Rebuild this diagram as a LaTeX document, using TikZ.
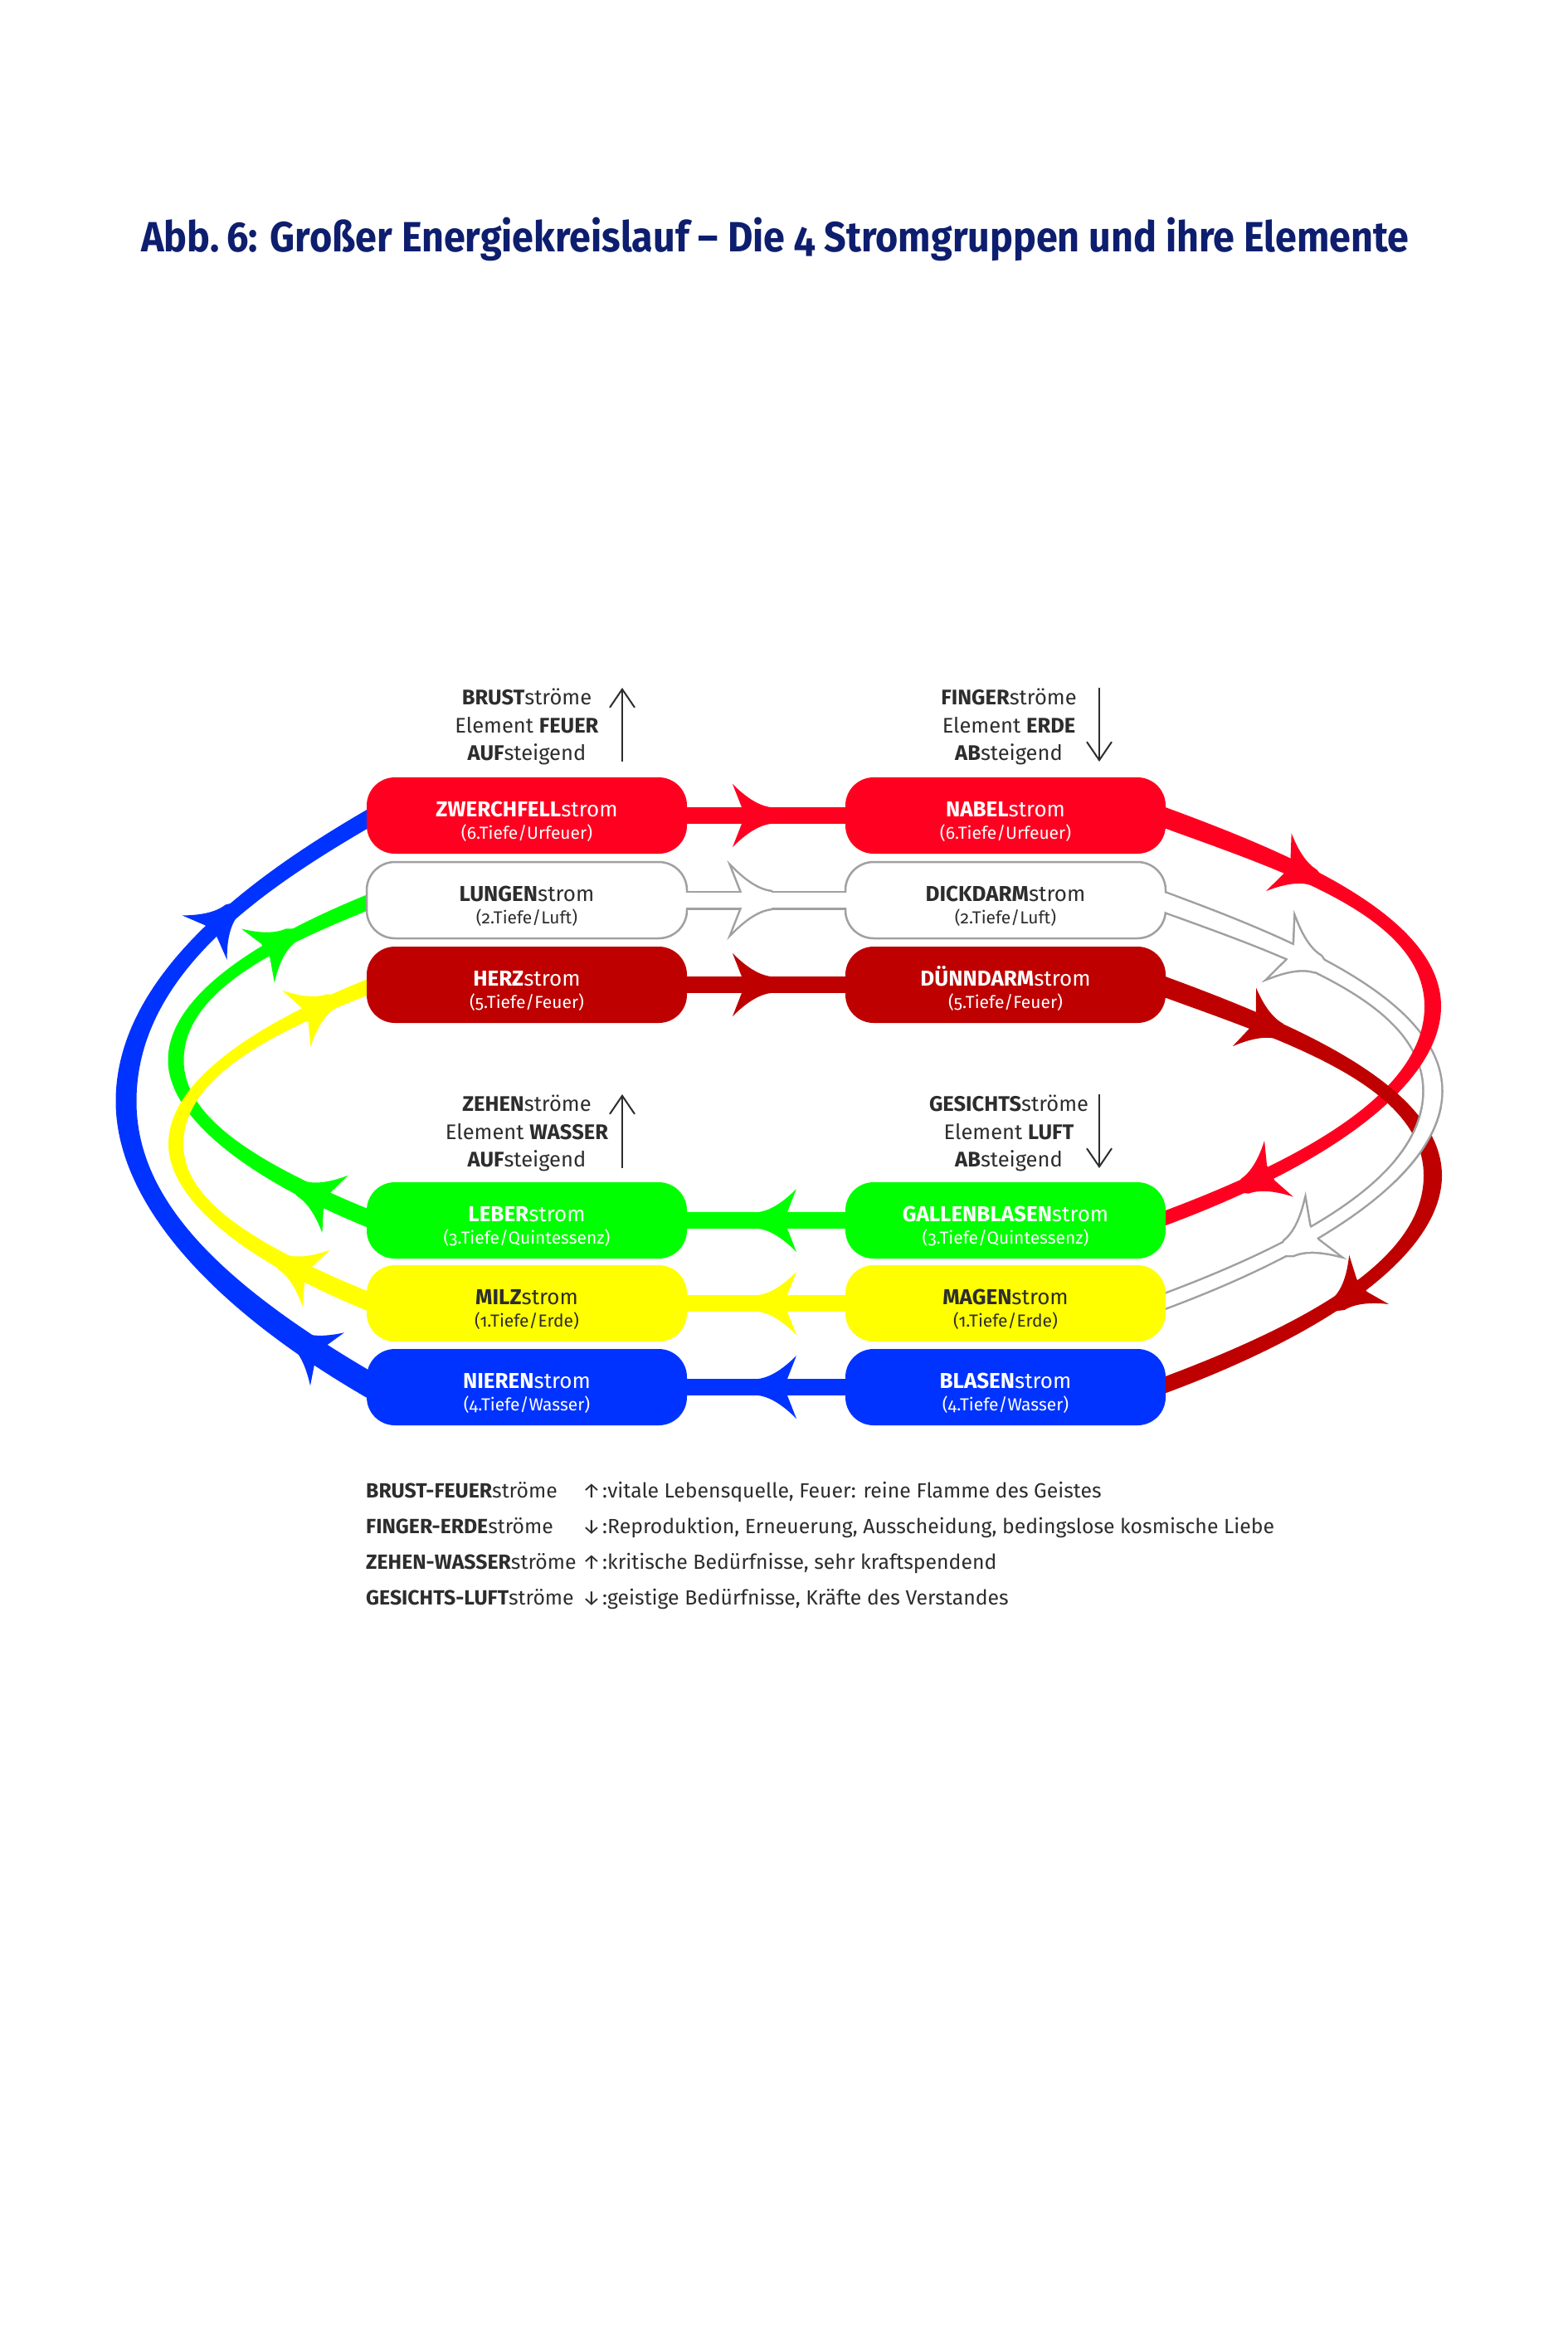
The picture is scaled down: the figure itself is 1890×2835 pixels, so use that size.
\documentclass[tikz,border=0pt]{standalone}
\usepackage{fontspec}
\setmainfont{Fira Sans}[Numbers=OldStyle]
\newfontfamily\titlefont{Fira Sans}[Numbers=OldStyle, FakeStretch=0.915]
\usetikzlibrary{calc,decorations.markings,arrows.meta}
\pgfdeclarelayer{back}
\pgfdeclarelayer{bg}
\pgfdeclarelayer{fg}
\pgfsetlayers{back,bg,main,fg}
\definecolor{cRed}{RGB}{255,0,32}
\definecolor{cDark}{RGB}{190,0,0}
\definecolor{cGreen}{RGB}{0,255,0}
\definecolor{cYellow}{RGB}{255,255,0}
\definecolor{cBlue}{RGB}{0,51,255}
\definecolor{cGray}{RGB}{160,160,160}
\definecolor{cText}{RGB}{45,45,45}
\definecolor{cTitle}{RGB}{14,30,110}
\newcommand\myah[1]{\fill[#1] (62,0) -- (46,10) .. controls (30,12) and (14,24) .. (0,38) -- (11,10) -- (11,-10) -- (0,-38) .. controls (14,-24) and (30,-12) .. (46,-10) -- cycle;}
\newcommand\myahg{\filldraw[fill=cGray, draw=cGray, line width=5pt, line join=miter, miter limit=5] (62,0) -- (46,10) .. controls (30,12) and (14,24) .. (0,38) -- (11,10) -- (11,-10) -- (0,-38) .. controls (14,-24) and (30,-12) .. (46,-10) -- cycle;}
\newcommand\myband[5]{%
 \coordinate (#2o0) at ($(#2P0)!#3!90:(#2c1)$);
 \coordinate (#2i0) at ($(#2P0)!#3!-90:(#2c1)$);
 \coordinate (#2oA) at ($(#2A)!#4!90:(#2c3)$);
 \coordinate (#2iA) at ($(#2A)!#4!-90:(#2c3)$);
 \coordinate (#2o2) at ($(#2P2)!#5!-90:(#2c4)$);
 \coordinate (#2i2) at ($(#2P2)!#5!90:(#2c4)$);
 \path[#1] (#2o0) .. controls ($(#2c1)+(#2o0)-(#2P0)$) and ($(#2c2)+(#2oA)-(#2A)$) .. (#2oA)
   .. controls ($(#2c3)+(#2oA)-(#2A)$) and ($(#2c4)+(#2o2)-(#2P2)$) .. (#2o2)
   -- (#2i2) .. controls ($(#2c4)+(#2i2)-(#2P2)$) and ($(#2c3)+(#2iA)-(#2A)$) .. (#2iA)
   .. controls ($(#2c2)+(#2iA)-(#2A)$) and ($(#2c1)+(#2i0)-(#2P0)$) .. (#2i0) -- cycle;}
\newcommand\myarrows[4]{\path[decorate, decoration={markings, mark=at position #2 with {#4}, mark=at position #3 with {#4}}] (#1P0) .. controls (#1c1) and (#1c2) .. (#1A) .. controls (#1c3) and (#1c4) .. (#1P2);}
\tikzset{
 box/.style={rounded corners=34pt, minimum width=386pt, minimum height=92pt, inner sep=0pt, outer sep=0pt},
 tA/.style={anchor=base, inner sep=0pt, font=\fontsize{26}{30}\selectfont},
 tB/.style={anchor=base, inner sep=0pt, font=\fontsize{21}{25}\selectfont},
 hd/.style={anchor=base, inner sep=0pt, font=\fontsize{25.5}{30}\selectfont, text=cText},
 leg/.style={anchor=base west, inner sep=0pt, font=\fontsize{24.8}{28}\selectfont, text=cText},
 hdarrow/.style={draw=cText, line width=2pt, -{Straight Barb[length=22pt, width=30pt]}},
 sconn/.style={line width=20pt},
}
\begin{document}
\begin{tikzpicture}[x=1pt,y=-1pt]
\begin{pgfonlayer}{back}
\fill[white] (0,0) rectangle (1890,2835);
\end{pgfonlayer}
\useasboundingbox (0,0) rectangle (1890,2835);

\node[anchor=base west, inner sep=0pt, text=cTitle, font=\titlefont\fontsize{51}{60}\selectfont\bfseries] (title) at (170,303) {Abb.\hspace{0.18em}6: Großer Energiekreislauf – Die 4 Stromgruppen und ihre Elemente};

% boxes
\node[box, fill=cRed] (zw) at (635,983) {};
\node[box, fill=white, draw=cGray, line width=2.5pt] (lung) at (635,1085) {};
\node[box, fill=cDark] (herz) at (635,1187) {};
\node[box, fill=cRed] (nabel) at (1212,983) {};
\node[box, fill=white, draw=cGray, line width=2.5pt] (dick) at (1212,1085) {};
\node[box, fill=cDark] (duenn) at (1212,1187) {};
\node[box, fill=cGreen] (leber) at (635,1471) {};
\node[box, fill=cYellow] (milz) at (635,1571) {};
\node[box, fill=cBlue] (nieren) at (635,1672) {};
\node[box, fill=cGreen] (gallen) at (1212,1471) {};
\node[box, fill=cYellow] (magen) at (1212,1571) {};
\node[box, fill=cBlue] (blasen) at (1212,1672) {};

% box texts
\node[tA, text=white] (zwA) at ($(zw)+(0,1)$) {\textbf{ZWERCHFELL}strom};
\node[tB, text=white] (zwB) at ($(zw)+(0,28)$) {(6.Tiefe/Urfeuer)};
\node[tA, text=cText] (lungA) at ($(lung)+(0,1)$) {\textbf{LUNGEN}strom};
\node[tB, text=cText] (lungB) at ($(lung)+(0,28)$) {(2.Tiefe/Luft)};
\node[tA, text=white] (herzA) at ($(herz)+(0,1)$) {\textbf{HERZ}strom};
\node[tB, text=white] (herzB) at ($(herz)+(0,28)$) {(5.Tiefe/Feuer)};
\node[tA, text=white] (nabelA) at ($(nabel)+(0,1)$) {\textbf{NABEL}strom};
\node[tB, text=white] (nabelB) at ($(nabel)+(0,28)$) {(6.Tiefe/Urfeuer)};
\node[tA, text=cText] (dickA) at ($(dick)+(0,1)$) {\textbf{DICKDARM}strom};
\node[tB, text=cText] (dickB) at ($(dick)+(0,28)$) {(2.Tiefe/Luft)};
\node[tA, text=white] (duennA) at ($(duenn)+(0,1)$) {\textbf{DÜNNDARM}strom};
\node[tB, text=white] (duennB) at ($(duenn)+(0,28)$) {(5.Tiefe/Feuer)};
\node[tA, text=white] (leberA) at ($(leber)+(0,1)$) {\textbf{LEBER}strom};
\node[tB, text=white] (leberB) at ($(leber)+(0,28)$) {(3.Tiefe/Quintessenz)};
\node[tA, text=cText] (milzA) at ($(milz)+(0,1)$) {\textbf{MILZ}strom};
\node[tB, text=cText] (milzB) at ($(milz)+(0,28)$) {(1.Tiefe/Erde)};
\node[tA, text=white] (nierenA) at ($(nieren)+(0,1)$) {\textbf{NIEREN}strom};
\node[tB, text=white] (nierenB) at ($(nieren)+(0,28)$) {(4.Tiefe/Wasser)};
\node[tA, text=white] (gallenA) at ($(gallen)+(0,1)$) {\textbf{GALLENBLASEN}strom};
\node[tB, text=white] (gallenB) at ($(gallen)+(0,28)$) {(3.Tiefe/Quintessenz)};
\node[tA, text=cText] (magenA) at ($(magen)+(0,1)$) {\textbf{MAGEN}strom};
\node[tB, text=cText] (magenB) at ($(magen)+(0,28)$) {(1.Tiefe/Erde)};
\node[tA, text=white] (blasenA) at ($(blasen)+(0,1)$) {\textbf{BLASEN}strom};
\node[tB, text=white] (blasenB) at ($(blasen)+(0,28)$) {(4.Tiefe/Wasser)};

% loop geometry
\coordinate (rP0) at ($(nabel.east)+(-8,0)$);
\coordinate (rP2) at ($(gallen.east)+(-8,0)$);
\coordinate (rc1) at ($(rP0)+(150,55)$);
\coordinate (rA)  at ($(rP0)+(330,230)$);
\coordinate (rc2) at ($(rA)+(0,-110)$);
\coordinate (rc3) at ($(rA)+(0,87)$);
\coordinate (rc4) at ($(rP2)+(220,-81)$);
\coordinate (gP0) at ($(dick.east)+(-8,0)$);
\coordinate (gP2) at ($(magen.east)+(-8,0)$);
\coordinate (gc1) at ($(gP0)+(150,55)$);
\coordinate (gA)  at ($(gP0)+(330,230)$);
\coordinate (gc2) at ($(gA)+(0,-110)$);
\coordinate (gc3) at ($(gA)+(0,87)$);
\coordinate (gc4) at ($(gP2)+(220,-81)$);
\coordinate (dP0) at ($(duenn.east)+(-8,0)$);
\coordinate (dP2) at ($(blasen.east)+(-8,0)$);
\coordinate (dc1) at ($(dP0)+(150,55)$);
\coordinate (dA)  at ($(dP0)+(330,230)$);
\coordinate (dc2) at ($(dA)+(0,-110)$);
\coordinate (dc3) at ($(dA)+(0,87)$);
\coordinate (dc4) at ($(dP2)+(220,-81)$);
\coordinate (bP0) at ($(nieren.west)+(8,0)$);
\coordinate (bP2) at ($(zw.west)+(8,0)$);
\coordinate (bA)  at ($(bP2)+(-298,344.5)$);
\coordinate (bc1) at ($(bP0)+(-199,-115)$);
\coordinate (bc2) at ($(bA)+(0,115)$);
\coordinate (bc3) at ($(bA)+(0,-155)$);
\coordinate (bc4) at ($(bP2)+(-135,78)$);
\coordinate (lP0) at ($(leber.west)+(8,0)$);
\coordinate (lP2) at ($(lung.west)+(8,0)$);
\coordinate (lA)  at ($(lP2)+(-238,193)$);
\coordinate (lc1) at ($(lP0)+(-159,-64)$);
\coordinate (lc2) at ($(lA)+(0,64)$);
\coordinate (lc3) at ($(lA)+(0,-87)$);
\coordinate (lc4) at ($(lP2)+(-108,43.5)$);
\coordinate (yP0) at ($(milz.west)+(8,0)$);
\coordinate (yP2) at ($(herz.west)+(8,0)$);
\coordinate (yA)  at ($(yP2)+(-238,192)$);
\coordinate (yc1) at ($(yP0)+(-159,-64)$);
\coordinate (yc2) at ($(yA)+(0,64)$);
\coordinate (yc3) at ($(yA)+(0,-86.5)$);
\coordinate (yc4) at ($(yP2)+(-108,43)$);

\begin{pgfonlayer}{bg}
% left loops
\myband{fill=cBlue}{b}{15pt}{12.5pt}{10pt}
\myarrows{b}{65pt}{700pt}{\myah{cBlue}}
\myband{fill=cGreen}{l}{10.5pt}{9.5pt}{9pt}
\myarrows{l}{50pt}{488pt}{\myah{cGreen}}
\myband{fill=cYellow}{y}{11pt}{9pt}{9pt}
\myarrows{y}{75pt}{540pt}{\myah{cYellow}}
% right loops
\myband{fill=cGray, draw=cGray, line width=5pt}{g}{10.5pt}{10.25pt}{7.75pt}
\myarrows{g}{160pt}{645pt}{\myahg}
\myband{fill=white}{g}{10.5pt}{10.25pt}{7.75pt}
\myarrows{g}{160pt}{645pt}{\myah{white}}
\myband{fill=cRed}{r}{12pt}{10pt}{8.5pt}
\myarrows{r}{155pt}{705pt}{\myah{cRed}}
\myband{fill=cDark}{d}{12pt}{11pt}{9.5pt}
\myarrows{d}{110pt}{575pt}{\myah{cDark}}
\begin{scope}
\clip (1680,1335) rectangle (1775,1425);
\myband{fill=cGray, draw=cGray, line width=5pt}{g}{10.5pt}{10.25pt}{7.75pt}
\myband{fill=white}{g}{10.5pt}{10.25pt}{7.75pt}
\end{scope}
% straight connectors
\draw[cRed, sconn, postaction={decorate, decoration={markings, mark=at position 55pt with {\myah{cRed}}}}] (zw.east) -- (nabel.west);
\draw[cDark, sconn, postaction={decorate, decoration={markings, mark=at position 55pt with {\myah{cDark}}}}] (herz.east) -- (duenn.west);
\draw[cGray, line width=23pt, postaction={decorate, decoration={markings, mark=at position 55pt with {\myahg}}}] (lung.east) -- (dick.west);
\draw[cGreen, sconn, postaction={decorate, decoration={markings, mark=at position 59pt with {\myah{cGreen}}}}] (gallen.west) -- (leber.east);
\draw[cYellow, sconn, postaction={decorate, decoration={markings, mark=at position 59pt with {\myah{cYellow}}}}] (magen.west) -- (milz.east);
\draw[cBlue, sconn, postaction={decorate, decoration={markings, mark=at position 59pt with {\myah{cBlue}}}}] (blasen.west) -- (nieren.east);
\end{pgfonlayer}

\begin{pgfonlayer}{fg}
\draw[white, line width=18pt] ($(lung.east)+(-6,0)$) -- ($(dick.west)+(6,0)$);
\path[decorate, decoration={markings, mark=at position 55pt with {\myah{white}}}] (lung.east) -- (dick.west);
\begin{scope}
\clip ($(dick.east)+(-12,-30)$) rectangle ($(dick.east)+(12,30)$);
\myband{fill=white}{g}{10.5pt}{10.25pt}{7.75pt}
\end{scope}
\end{pgfonlayer}

% headers
\node[hd] (h1a) at (635,849) {\textbf{BRUST}ströme};
\node[hd] (h1b) at (635,883) {Element \textbf{FEUER}};
\node[hd] (h1c) at (635,916) {\textbf{AUF}steigend};
\coordinate (h1s) at (750,918); \coordinate (h1e) at (750,829);
\draw[hdarrow] (h1s) -- (h1e);
\node[hd] (h2a) at (1216,849) {\textbf{FINGER}ströme};
\node[hd] (h2b) at (1216,883) {Element \textbf{ERDE}};
\node[hd] (h2c) at (1216,916) {\textbf{AB}steigend};
\coordinate (h2s) at (1325,829); \coordinate (h2e) at (1325,918);
\draw[hdarrow] (h2s) -- (h2e);
\node[hd] (h3a) at (635,1339) {\textbf{ZEHEN}ströme};
\node[hd] (h3b) at (635,1373) {Element \textbf{WASSER}};
\node[hd] (h3c) at (635,1406) {\textbf{AUF}steigend};
\coordinate (h3s) at (750,1408); \coordinate (h3e) at (750,1319);
\draw[hdarrow] (h3s) -- (h3e);
\node[hd] (h4a) at (1216,1339) {\textbf{GESICHTS}ströme};
\node[hd] (h4b) at (1216,1373) {Element \textbf{LUFT}};
\node[hd] (h4c) at (1216,1406) {\textbf{AB}steigend};
\coordinate (h4s) at (1325,1319); \coordinate (h4e) at (1325,1408);
\draw[hdarrow] (h4s) -- (h4e);

% legend
\node[leg] (g1a) at (441,1805) {\textbf{BRUST-FEUER}ströme};
\node[leg, anchor=base] (g1b) at (713,1805) {↑};
\node[leg] (g1c) at (726,1805) {:vitale Lebensquelle, Feuer: reine Flamme des Geistes};
\node[leg] (g2a) at (441,1848) {\textbf{FINGER-ERDE}ströme};
\node[leg, anchor=base] (g2b) at (713,1848) {↓};
\node[leg] (g2c) at (726,1848) {:Reproduktion, Erneuerung, Ausscheidung, bedingslose kosmische Liebe};
\node[leg] (g3a) at (441,1891) {\textbf{ZEHEN-WASSER}ströme};
\node[leg, anchor=base] (g3b) at (713,1891) {↑};
\node[leg] (g3c) at (726,1891) {:kritische Bedürfnisse, sehr kraftspendend};
\node[leg] (g4a) at (441,1934) {\textbf{GESICHTS-LUFT}ströme};
\node[leg, anchor=base] (g4b) at (713,1934) {↓};
\node[leg] (g4c) at (726,1934) {:geistige Bedürfnisse, Kräfte des Verstandes};
\end{tikzpicture}
\end{document}
